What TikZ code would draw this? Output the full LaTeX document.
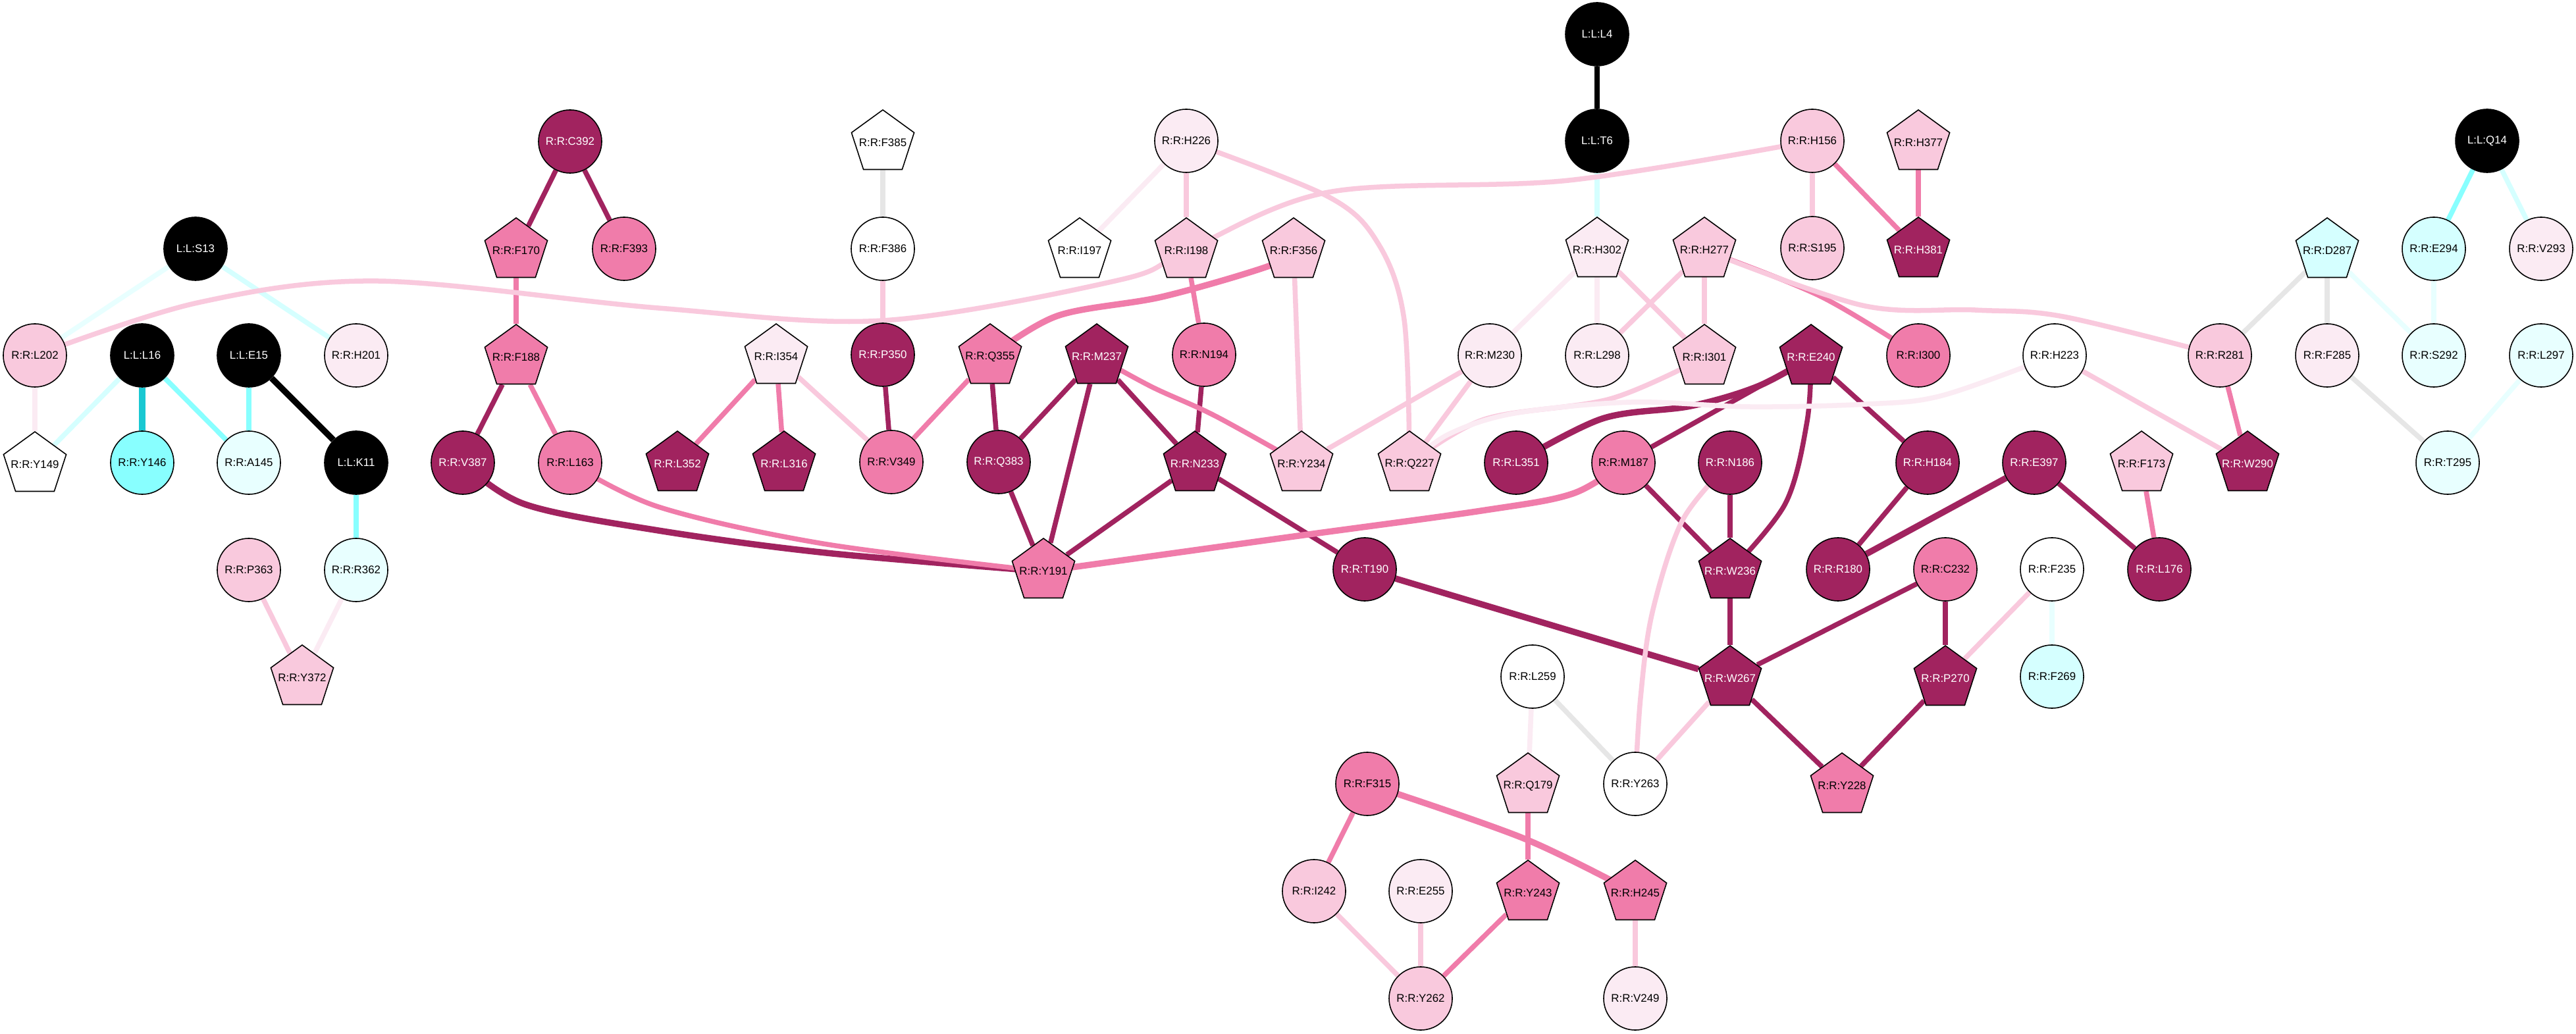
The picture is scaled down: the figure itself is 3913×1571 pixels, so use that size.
\documentclass[tikz,border=0pt]{standalone}
\usepackage{fontspec}
\setmainfont{Liberation Sans}
\usetikzlibrary{shapes.geometric}
\pgfdeclarelayer{edges}
\pgfsetlayers{edges,main}
\newcommand\nodefont{\fontsize{4.8pt}{5.5pt}\selectfont}
\newcommand\pl[1]{\makebox[0pt]{#1}}
\definecolor{dm}{RGB}{161,35,95}
\definecolor{mp}{RGB}{240,124,170}
\definecolor{lp}{RGB}{249,201,221}
\definecolor{vlp}{RGB}{251,235,243}
\definecolor{cyn}{RGB}{136,255,255}
\definecolor{dcy}{RGB}{25,200,210}
\definecolor{lcy}{RGB}{213,255,255}
\definecolor{vlcy}{RGB}{232,255,255}
\definecolor{gry}{RGB}{230,230,230}
\tikzset{
 nd/.style={draw=black, line width=0.45pt, inner sep=0pt, font=\nodefont, text=black},
 cir/.style={nd, circle, minimum size=0.96cm},
 pen/.style={nd, regular polygon, regular polygon sides=5, minimum size=1.0cm},
 wt/.style={text=white},
 e/.style={line width=0.075cm},
 te/.style={line width=0.095cm},
}
\begin{document}
\begin{tikzpicture}[x=0.01cm,y=-0.01cm]
\useasboundingbox (0,0) rectangle (3913,1571);
% ---------- nodes ----------
% row 0
\node[cir, fill=black, wt] (lL4) at (2426,52) {L:L:L4};
% row 1
\node[cir, fill=dm, wt] (rC392) at (866,215) {R:R:C392};
\node[pen, fill=white] (rF385) at (1341,217) {\pl{R:R:F385}};
\node[cir, fill=vlp] (rH226) at (1802,214) {R:R:H226};
\node[cir, fill=black, wt] (lT6) at (2426,214) {L:L:T6};
\node[cir, fill=lp] (rH156) at (2753,214) {R:R:H156};
\node[pen, fill=lp] (rH377) at (2914,217) {\pl{R:R:H377}};
\node[cir, fill=black, wt] (lQ14) at (3778,214) {L:L:Q14};
% row 2
\node[cir, fill=black, wt] (lS13) at (297,378) {L:L:S13};
\node[pen, fill=mp] (rF170) at (784,381) {\pl{R:R:F170}};
\node[cir, fill=mp] (rF393) at (948,378) {R:R:F393};
\node[cir, fill=white] (rF386) at (1341,378) {R:R:F386};
\node[pen, fill=white] (rI197) at (1640,381) {\pl{R:R:I197}};
\node[pen, fill=lp] (rI198) at (1802,381) {\pl{R:R:I198}};
\node[pen, fill=lp] (rF356) at (1965,381) {\pl{R:R:F356}};
\node[pen, fill=vlp] (rH302) at (2426,380) {\pl{R:R:H302}};
\node[pen, fill=lp] (rH277) at (2589,380) {\pl{R:R:H277}};
\node[cir, fill=lp] (rS195) at (2753,377) {R:R:S195};
\node[pen, fill=dm, wt] (rH381) at (2914,380) {\pl{R:R:H381}};
\node[pen, fill=lcy] (rD287) at (3535,381) {\pl{R:R:D287}};
\node[cir, fill=lcy] (rE294) at (3697,378) {R:R:E294};
\node[cir, fill=vlp] (rV293) at (3860,378) {R:R:V293};
% row 3
\node[cir, fill=lp] (rL202) at (53,540) {R:R:L202};
\node[cir, fill=black, wt] (lL16) at (216,540) {L:L:L16};
\node[cir, fill=black, wt] (lE15) at (378,540) {L:L:E15};
\node[cir, fill=vlp] (rH201) at (541,540) {R:R:H201};
\node[pen, fill=mp] (rF188) at (784,543) {\pl{R:R:F188}};
\node[pen, fill=vlp] (rI354) at (1179,542) {\pl{R:R:I354}};
\node[cir, fill=dm, wt] (rP350) at (1341,539) {R:R:P350};
\node[pen, fill=mp] (rQ355) at (1504,542) {\pl{R:R:Q355}};
\node[pen, fill=dm, wt] (rM237) at (1666,542) {\pl{R:R:M237}};
\node[cir, fill=mp] (rN194) at (1829,539) {R:R:N194};
\node[cir, fill=vlp] (rM230) at (2263,540) {R:R:M230};
\node[cir, fill=vlp] (rL298) at (2426,540) {R:R:L298};
\node[pen, fill=lp] (rI301) at (2589,543) {\pl{R:R:I301}};
\node[pen, fill=dm, wt] (rE240) at (2751,543) {\pl{R:R:E240}};
\node[cir, fill=mp] (rI300) at (2914,540) {R:R:I300};
\node[cir, fill=white] (rH223) at (3121,540) {R:R:H223};
\node[cir, fill=lp] (rR281) at (3372,540) {R:R:R281};
\node[cir, fill=vlp] (rF285) at (3535,540) {R:R:F285};
\node[cir, fill=vlcy] (rS292) at (3697,540) {R:R:S292};
\node[cir, fill=vlcy] (rL297) at (3860,540) {R:R:L297};
% row 4
\node[pen, fill=white] (rY149) at (53,706) {\pl{R:R:Y149}};
\node[cir, fill=cyn] (rY146) at (216,703) {R:R:Y146};
\node[cir, fill=vlcy] (rA145) at (378,703) {R:R:A145};
\node[cir, fill=black, wt] (lK11) at (541,703) {L:L:K11};
\node[cir, fill=dm, wt] (rV387) at (703,703) {R:R:V387};
\node[cir, fill=mp] (rL163) at (866,703) {R:R:L163};
\node[pen, fill=dm, wt] (rL352) at (1029,705) {\pl{R:R:L352}};
\node[pen, fill=dm, wt] (rL316) at (1191,705) {\pl{R:R:L316}};
\node[cir, fill=mp] (rV349) at (1354,702) {R:R:V349};
\node[cir, fill=dm, wt] (rQ383) at (1517,702) {R:R:Q383};
\node[pen, fill=dm, wt] (rN233) at (1815,705) {\pl{R:R:N233}};
\node[pen, fill=lp] (rY234) at (1977,705) {\pl{R:R:Y234}};
\node[pen, fill=lp] (rQ227) at (2141,705) {\pl{R:R:Q227}};
\node[cir, fill=dm, wt] (rL351) at (2303,703) {R:R:L351};
\node[cir, fill=mp] (rM187) at (2466,703) {R:R:M187};
\node[cir, fill=dm, wt] (rN186) at (2628,703) {R:R:N186};
\node[cir, fill=dm, wt] (rH184) at (2928,703) {R:R:H184};
\node[cir, fill=dm, wt] (rE397) at (3090,703) {R:R:E397};
\node[pen, fill=lp] (rF173) at (3253,705) {\pl{R:R:F173}};
\node[pen, fill=dm, wt] (rW290) at (3414,705) {\pl{R:R:W290}};
\node[cir, fill=vlcy] (rT295) at (3718,703) {R:R:T295};
% row 5
\node[cir, fill=lp] (rP363) at (378,866) {R:R:P363};
\node[cir, fill=vlcy] (rR362) at (541,866) {R:R:R362};
\node[pen, fill=mp] (rY191) at (1585,868) {\pl{R:R:Y191}};
\node[cir, fill=dm, wt] (rT190) at (2073,865) {R:R:T190};
\node[pen, fill=dm, wt] (rW236) at (2628,868) {\pl{R:R:W236}};
\node[cir, fill=dm, wt] (rR180) at (2792,865) {R:R:R180};
\node[cir, fill=mp] (rC232) at (2955,865) {R:R:C232};
\node[cir, fill=white] (rF235) at (3117,865) {R:R:F235};
\node[cir, fill=dm, wt] (rL176) at (3280,865) {R:R:L176};
% row 6
\node[pen, fill=lp] (rY372) at (459,1030) {\pl{R:R:Y372}};
\node[cir, fill=white] (rL259) at (2328,1028) {R:R:L259};
\node[pen, fill=dm, wt] (rW267) at (2628,1031) {\pl{R:R:W267}};
\node[pen, fill=dm, wt] (rP270) at (2955,1031) {\pl{R:R:P270}};
\node[cir, fill=lcy] (rF269) at (3117,1028) {R:R:F269};
% row 7
\node[cir, fill=mp] (rF315) at (2077,1191) {R:R:F315};
\node[pen, fill=lp] (rQ179) at (2321,1194) {\pl{R:R:Q179}};
\node[cir, fill=white] (rY263) at (2484,1191) {R:R:Y263};
\node[pen, fill=mp] (rY228) at (2798,1194) {\pl{R:R:Y228}};
% row 8
\node[cir, fill=lp] (rI242) at (1996,1354) {R:R:I242};
\node[cir, fill=vlp] (rE255) at (2158,1354) {R:R:E255};
\node[pen, fill=mp] (rY243) at (2321,1357) {\pl{R:R:Y243}};
\node[pen, fill=mp] (rH245) at (2484,1357) {\pl{R:R:H245}};
% row 9
\node[cir, fill=lp] (rY262) at (2158,1517) {R:R:Y262};
\node[cir, fill=vlp] (rV249) at (2484,1517) {R:R:V249};
% ---------- edges ----------
\begin{pgfonlayer}{edges}
\fill[white] (0,0) rectangle (3913,1571);
% ligand contacts
\draw[e, black] (lL4) -- (lT6);
\draw[e, lcy] (lT6) -- (rH302);
\draw[e, vlcy] (lS13) -- (rL202);
\draw[e, lcy] (lS13) -- (rH201);
\draw[e, lcy] (lL16) -- (rY149);
\draw[te, dcy] (lL16) -- (rY146);
\draw[e, cyn] (lL16) -- (rA145);
\draw[e, cyn] (lE15) -- (rA145);
\draw[te, black] (lE15) -- (lK11);
\draw[e, cyn] (lK11) -- (rR362);
\draw[e, cyn] (lQ14) -- (rE294);
\draw[e, lcy] (lQ14) -- (rV293);
% residue contacts, straight
\draw[e, vlp] (rL202) -- (rY149);
\draw[e, gry] (rF385) -- (rF386);
\draw[e, lp] (rF386) -- (rP350);
\draw[e, dm] (rC392) -- (rF170);
\draw[e, dm] (rC392) -- (rF393);
\draw[e, mp] (rF170) -- (rF188);
\draw[e, dm] (rF188) -- (rV387);
\draw[e, mp] (rF188) -- (rL163);
\draw[e, lp] (rP363) -- (rY372);
\draw[e, vlp] (rR362) -- (rY372);
\draw[e, vlp] (rH226) -- (rI197);
\draw[e, lp] (rH226) -- (rI198);
\draw[e, mp] (rI198) -- (rN194);
\draw[e, lp] (rF356) -- (rY234);
\draw[e, mp] (rI354) -- (rL352);
\draw[e, mp] (rI354) -- (rL316);
\draw[e, lp] (rI354) -- (rV349);
\draw[e, dm] (rP350) -- (rV349);
\draw[e, mp] (rQ355) -- (rV349);
\draw[e, dm] (rQ355) -- (rQ383);
\draw[e, dm] (rM237) -- (rQ383);
\draw[e, dm] (rM237) -- (rY191);
\draw[e, dm] (rM237) -- (rN233);
\draw[e, dm] (rN194) -- (rN233);
\draw[e, dm] (rQ383) -- (rY191);
\draw[e, dm] (rN233) -- (rY191);
\draw[e, dm] (rN233) -- (rT190);
\draw[te, dm] (rT190) -- (rW267);
\draw[e, lp] (rM230) -- (rY234);
\draw[e, lp] (rM230) -- (rQ227);
\draw[e, vlp] (rH302) -- (rM230);
\draw[e, vlp] (rH302) -- (rL298);
\draw[e, lp] (rH302) -- (rI301);
\draw[e, lp] (rH277) -- (rL298);
\draw[e, lp] (rH277) -- (rI301);
\draw[e, lp] (rH156) -- (rS195);
\draw[e, mp] (rH156) -- (rH381);
\draw[e, mp] (rH377) -- (rH381);
\draw[e, dm] (rE240) -- (rM187);
\draw[e, dm] (rE240) -- (rH184);
\draw[e, dm] (rM187) -- (rW236);
\draw[e, dm] (rN186) -- (rW236);
\draw[e, dm] (rH184) -- (rR180);
\draw[te, dm] (rE397) -- (rR180);
\draw[e, dm] (rE397) -- (rL176);
\draw[e, mp] (rF173) -- (rL176);
\draw[e, dm] (rW236) -- (rW267);
\draw[e, dm] (rC232) -- (rW267);
\draw[e, dm] (rC232) -- (rP270);
\draw[e, lp] (rF235) -- (rP270);
\draw[e, vlcy] (rF235) -- (rF269);
\draw[e, lp] (rW267) -- (rY263);
\draw[e, dm] (rW267) -- (rY228);
\draw[e, dm] (rP270) -- (rY228);
\draw[e, vlp] (rL259) -- (rQ179);
\draw[e, gry] (rL259) -- (rY263);
\draw[e, mp] (rQ179) -- (rY243);
\draw[e, mp] (rF315) -- (rI242);
\draw[e, lp] (rI242) -- (rY262);
\draw[e, lp] (rE255) -- (rY262);
\draw[e, mp] (rY243) -- (rY262);
\draw[e, lp] (rH245) -- (rV249);
\draw[e, lp] (rH223) -- (rW290);
\draw[e, mp] (rR281) -- (rW290);
\draw[e, gry] (rR281) -- (rD287);
\draw[e, gry] (rD287) -- (rF285);
\draw[e, vlcy] (rD287) -- (rS292);
\draw[e, vlcy] (rE294) -- (rS292);
\draw[e, gry] (rF285) -- (rT295);
\draw[e, vlcy] (rL297) -- (rT295);
% residue contacts, curved
\draw[e, lp] plot[smooth, tension=0.55] coordinates {(rL202.center) (300,460) (574,427) (1000,468) (1341,487) (1702,425) (rI198.center) (2018,292) (2383,274) (rH156.center)};
\draw[e, lp] plot[smooth, tension=0.55] coordinates {(rH226.center) (2018,299) (2094,371) (2133,486) (rQ227.center)};
\draw[te, mp] plot[smooth, tension=0.55] coordinates {(rF356.center) (1925,405) (1765,451) (1606,480) (rQ355.center)};
\draw[e, mp] plot[smooth, tension=0.55] coordinates {(rM237.center) (1750,588) (1846,632) (rY234.center)};
\draw[te, dm] plot[smooth, tension=0.55] coordinates {(rV387.center) (797,766) (1000,806) (1255,840) (rY191.center)};
\draw[e, mp] plot[smooth, tension=0.55] coordinates {(rL163.center) (1000,770) (1250,826) (rY191.center)};
\draw[te, mp] plot[smooth, tension=0.55] coordinates {(rY191.center) (1951,817) (2250,776) (2389,750) (rM187.center)};
\draw[te, dm] plot[smooth, tension=0.55] coordinates {(rE240.center) (2670,587) (2568,617) (2434,636) (rL351.center)};
\draw[e, dm] plot[smooth, tension=0.55] coordinates {(rE240.center) (2745,640) (2712,765) (rW236.center)};
\draw[e, mp] plot[smooth, tension=0.55] coordinates {(rH277.center) (2765,450) (rI300.center)};
\draw[e, lp] plot[smooth, tension=0.55] coordinates {(rH277.center) (2829,464) (3000,471) (3134,481) (rR281.center)};
\draw[e, lp] plot[smooth, tension=0.55] coordinates {(rI301.center) (2446,606) (2255,637) (rQ227.center)};
\draw[e, vlp] plot[smooth, tension=0.55] coordinates {(rH223.center) (2950,601) (2836,614) (2657,618) (2478,611) (2300,628) (2200,660) (rQ227.center)};
\draw[e, lp] plot[smooth, tension=0.55] coordinates {(rN186.center) (2556,790) (2510,930) (2492,1060) (rY263.center)};
\draw[te, mp] plot[smooth, tension=0.55] coordinates {(rF315.center) (2315,1274) (rH245.center)};
\end{pgfonlayer}
\end{tikzpicture}
\end{document}
